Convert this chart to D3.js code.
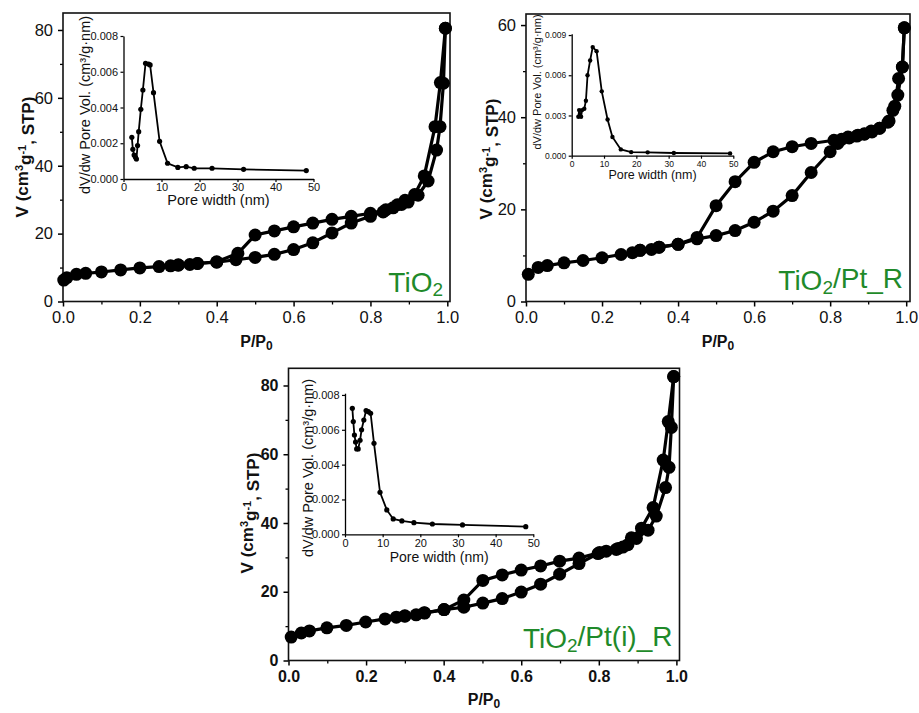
<!DOCTYPE html>
<html><head><meta charset="utf-8">
<script src="https://cdn.jsdelivr.net/npm/d3@7"></script>
<style>body{margin:0;background:#fff} svg{display:block;font-family:"Liberation Sans",Arial,sans-serif}</style>
</head><body><svg id="c" width="919" height="713"></svg>
<script>
// ---------- DATA ----------
// TiO2 isotherm
const tio2AdsP = [0.002,0.01,0.035,0.059,0.1,0.15,0.2,0.25,0.28,0.3,0.33,0.35,0.4,0.45,0.5,0.55,0.6,0.65,0.7,0.75,0.8,0.833,0.859,0.881,0.898,0.924,0.95,0.972,0.981,0.99,0.995];
const tio2AdsV = [6.3,7.0,8.0,8.3,8.7,9.3,9.9,10.3,10.5,10.7,10.9,11.2,11.6,12.3,13.0,13.9,15.3,17.3,20.2,23.1,25.1,26.4,27.6,28.6,29.3,31.3,35.5,44.6,51.5,64.3,80.5];
const tio2DesP = [0.995,0.982,0.968,0.94,0.915,0.89,0.87,0.84,0.8,0.75,0.7,0.65,0.6,0.55,0.5,0.455,0.4,0.35,0.3];
const tio2DesV = [80.5,64.5,51.5,37.0,31.5,29.8,28.5,27.0,26.0,25.1,24.2,23.1,22.0,20.8,19.6,14.2,11.7,11.2,10.8];
// TiO2/Pt_R isotherm
const ptAdsP = [0.006,0.032,0.056,0.1,0.15,0.2,0.25,0.28,0.3,0.33,0.35,0.4,0.45,0.5,0.55,0.6,0.65,0.7,0.75,0.8,0.82,0.847,0.873,0.89,0.908,0.93,0.952,0.965,0.978,0.99,0.995];
const ptAdsV = [5.9,7.4,7.8,8.4,8.9,9.5,10.2,10.6,11.1,11.3,11.8,12.4,13.6,14.3,15.4,17.2,19.6,23.0,28.0,32.5,34.3,35.7,36.1,36.4,37.0,37.6,38.9,41.5,44.8,50.9,59.4];
const ptDesP = [0.995,0.99,0.98,0.97,0.955,0.93,0.91,0.89,0.87,0.85,0.83,0.81,0.75,0.7,0.65,0.6,0.55,0.5,0.45,0.4,0.35,0.3];
const ptDesV = [59.4,50.9,48.4,42.4,39.2,37.6,36.8,36.3,35.9,35.5,35.2,35.0,34.3,33.6,32.5,30.2,26.0,20.8,13.9,12.4,11.8,11.1];
// TiO2/Pt(i)_R isotherm
const ptiAdsP = [0.007,0.033,0.054,0.099,0.149,0.199,0.249,0.278,0.3,0.329,0.351,0.401,0.452,0.501,0.551,0.6,0.65,0.699,0.749,0.798,0.819,0.85,0.875,0.897,0.927,0.948,0.972,0.981,0.987,0.993];
const ptiAdsV = [6.8,8.0,8.6,9.5,10.2,11.2,12.1,12.6,12.9,13.3,13.8,14.8,15.5,16.7,18.0,19.9,22.2,25.1,28.2,31.1,31.8,32.6,33.7,35.5,37.9,42.0,50.3,56.2,67.8,82.6];
const ptiDesP = [0.993,0.979,0.966,0.94,0.91,0.884,0.862,0.845,0.802,0.749,0.699,0.65,0.6,0.551,0.501,0.452,0.401,0.35,0.3];
const ptiDesV = [82.6,69.5,58.3,44.5,38.5,35.7,33.0,32.3,31.4,29.8,28.9,27.5,26.3,24.9,23.3,17.6,14.8,13.9,13.0];
// Pore size distributions (insets)
const tio2PoreW = [2.19,2.46,2.8,3.16,3.4,3.7,4.0,4.56,5.1,5.8,6.6,7.0,7.9,9.5,11.6,14.3,16.5,18.6,23.3,31.6,48.1];
const tio2PoreV = [0.00233,0.00166,0.00134,0.00121,0.00112,0.00187,0.00265,0.0039,0.00498,0.00647,0.00643,0.00638,0.00483,0.00211,0.00088,0.00065,0.00069,0.0006,0.0006,0.00054,0.00047];
const ptPoreW = [2.06,2.3,2.9,3.2,3.9,4.4,4.9,5.7,6.5,7.7,9.3,11.1,12.6,15.2,18.4,23.5,31.6,49];
const ptPoreV = [0.0029,0.0034,0.0029,0.0034,0.0035,0.0041,0.0060,0.0071,0.0081,0.0078,0.0048,0.0027,0.0014,0.00047,0.00027,0.00025,0.0002,0.00017];
const ptiPoreW = [1.95,2.2,2.5,2.8,3.1,3.5,4.0,4.4,5.0,5.6,6.2,6.8,7.7,9.3,11.1,12.8,15.1,18.3,23.2,31.2,48];
const ptiPoreV = [0.00723,0.00647,0.0057,0.0053,0.0049,0.0049,0.0054,0.0060,0.00656,0.0071,0.00704,0.00695,0.00522,0.00241,0.0014,0.00088,0.00077,0.00067,0.00059,0.00054,0.00044];
// Tick values
const xTicks = [0,0.2,0.4,0.6,0.8,1.0];
const xMinor = [0.1,0.3,0.5,0.7,0.9];
const yTicks80 = [0,20,40,60,80];
const yMinor80 = [10,30,50,70];
const yTicks60 = [0,20,40,60];
const yMinor60 = [10,30,50];
const poreTicks = [0,10,20,30,40,50];
const psdTicks8 = [0,0.002,0.004,0.006,0.008];
const psdTicks9 = [0,0.003,0.006,0.009];
const sampleNames = ["TiO2","TiO2/Pt_R","TiO2/Pt(i)_R"];

// ---------- DRAW ----------
const svg = d3.select("#c");
svg.append("rect").attr("width",919).attr("height",713).attr("fill","#fff");
const zip = (a,b)=>a.map((v,i)=>[v,b[i]]);
const green = "#1f8a2a";

function mainPanel(o){
  const g = svg.append("g");
  const x = d3.scaleLinear().domain(o.xd).range([o.L,o.R]);
  const y = d3.scaleLinear().domain(o.yd).range([o.B,o.T]);
  const fw = o.bold ? "bold" : "normal";
  // minor ticks
  g.append("g").attr("transform",`translate(0,${o.B})`)
    .call(d3.axisBottom(x).tickValues(xMinor).tickSize(3).tickSizeOuter(0).tickFormat(""))
    .call(s=>s.select(".domain").remove()).selectAll("line").attr("stroke-width",1.3);
  g.append("g").attr("transform",`translate(${o.L},0)`)
    .call(d3.axisLeft(y).tickValues(o.yMinor).tickSize(3).tickSizeOuter(0).tickFormat(""))
    .call(s=>s.select(".domain").remove()).selectAll("line").attr("stroke-width",1.3);
  const xa = g.append("g").attr("transform",`translate(0,${o.B})`)
    .call(d3.axisBottom(x).tickValues(xTicks).tickSize(5).tickPadding(5).tickSizeOuter(0).tickFormat(d3.format(".1f")));
  const ya = g.append("g").attr("transform",`translate(${o.L},0)`)
    .call(d3.axisLeft(y).tickValues(o.yTicks).tickSize(5).tickPadding(5).tickSizeOuter(0));
  [xa,ya].forEach(a=>{
    a.select(".domain").remove();
    a.attr("font-family",null).attr("font-size",o.fs).attr("font-weight",fw);
    a.selectAll("line").attr("stroke-width",1.5);
    a.selectAll("text").attr("fill","#111");
  });
  g.append("rect").attr("x",o.L).attr("y",o.T).attr("width",o.R-o.L).attr("height",o.B-o.T)
    .attr("fill","none").attr("stroke","#111").attr("stroke-width",1.6);
  // y label
  const yl = g.append("text").attr("transform",`translate(${o.ylx},${o.yly}) rotate(-90)`)
    .attr("text-anchor","middle").attr("font-weight","bold").attr("font-size",17).attr("fill","#111");
  yl.append("tspan").text("V (cm");
  yl.append("tspan").text("3").attr("font-size",11).attr("dy","-0.5em");
  yl.append("tspan").text("g").attr("dy","0.5em");
  yl.append("tspan").text("-1").attr("font-size",11).attr("dy","-0.5em");
  yl.append("tspan").text(", STP)").attr("dy","0.5em");
  // x label
  const xl = g.append("text").attr("x",(o.L+o.R)/2).attr("y",o.xly).attr("text-anchor","middle")
    .attr("font-weight","bold").attr("font-size",16).attr("fill","#111");
  xl.append("tspan").text("P/P");
  xl.append("tspan").text("0").attr("font-size",12).attr("dy","0.25em");
  // series
  const line = d3.line().x(d=>x(d[0])).y(d=>y(d[1]));
  [o.ads,o.des].forEach(s=>{
    g.append("path").datum(s).attr("d",line).attr("fill","none").attr("stroke","#000").attr("stroke-width",3.2);
  });
  [o.ads,o.des].forEach(s=>{
    g.selectAll(null).data(s).enter().append("circle")
      .attr("cx",d=>x(d[0])).attr("cy",d=>y(d[1])).attr("r",6.5).attr("fill","#000");
  });
  // sample label
  const nm = g.append("text").attr("x",o.R-7).attr("y",o.nmy).attr("text-anchor","end")
    .attr("font-size",28).attr("fill",green);
  const parts = o.name.split("2");
  nm.append("tspan").text(parts[0]);
  nm.append("tspan").text("2").attr("font-size",19).attr("dy","0.22em");
  nm.append("tspan").text(parts.slice(1).join("2")).attr("dy","-0.22em");
}

function inset(o){
  const g = svg.append("g");
  const x = d3.scaleLinear().domain([0,50]).range([o.L,o.R]);
  const y = d3.scaleLinear().domain(o.yd).range([o.B,o.T]);
  const xa = g.append("g").attr("transform",`translate(0,${o.B})`)
    .call(d3.axisBottom(x).tickValues(poreTicks).tickSize(3).tickPadding(o.xpad).tickSizeOuter(0));
  const ya = g.append("g").attr("transform",`translate(${o.L},0)`)
    .call(d3.axisLeft(y).tickValues(o.yTicks).tickSize(3).tickPadding(2.5).tickSizeOuter(0).tickFormat(d3.format(".3f")));
  [xa,ya].forEach(a=>{
    a.attr("font-family",null).attr("font-size",o.tfs);
    a.select(".domain").attr("stroke-width",1.3);
    a.selectAll("line").attr("stroke-width",1.2);
    a.selectAll("text").attr("fill","#111");
  });
  g.append("text").attr("x",(o.L+o.R)/2).attr("y",o.xly).attr("text-anchor","middle")
    .attr("font-size",o.xlfs).attr("fill","#111").text("Pore width (nm)");
  g.append("text").attr("transform",`translate(${o.ylx},${o.yly}) rotate(-90)`).attr("text-anchor","middle")
    .attr("font-size",o.ylfs).attr("fill","#111").text("dV/dw Pore Vol. (cm³/g·nm)");
  g.append("path").datum(o.data).attr("d",d3.line().x(d=>x(d[0])).y(d=>y(d[1])))
    .attr("fill","none").attr("stroke","#000").attr("stroke-width",1.8);
  g.selectAll(null).data(o.data).enter().append("circle")
    .attr("cx",d=>x(d[0])).attr("cy",d=>y(d[1])).attr("r",o.r).attr("fill","#000");
}

mainPanel({L:63,R:450,T:13,B:301.5,xd:[0,1.007],yd:[0,85],yTicks:yTicks80,yMinor:yMinor80,fs:16.5,bold:false,
  ylx:28,yly:157,xly:347,nmy:292,name:sampleNames[0],ads:zip(tio2AdsP,tio2AdsV),des:zip(tio2DesP,tio2DesV)});
mainPanel({L:526,R:910,T:14,B:301.5,xd:[0,1.01],yd:[0,62.4],yTicks:yTicks60,yMinor:yMinor60,fs:16.5,bold:false,
  ylx:492,yly:159,xly:347,nmy:290,name:sampleNames[1],ads:zip(ptAdsP,ptAdsV),des:zip(ptDesP,ptDesV)});
mainPanel({L:288.5,R:679.5,T:368.3,B:660.5,xd:[0,1.008],yd:[0,85],yTicks:yTicks80,yMinor:yMinor80,fs:16,bold:true,
  ylx:253,yly:513,xly:705,nmy:648,name:sampleNames[2],ads:zip(ptiAdsP,ptiAdsV),des:zip(ptiDesP,ptiDesV)});

inset({L:123.5,R:313.5,T:36,B:179,yd:[0,0.008],yTicks:psdTicks8,tfs:11,xpad:1.5,xlfs:14.5,ylfs:14.5,
  xly:205,ylx:90,yly:105,r:2.6,data:zip(tio2PoreW,tio2PoreV)});
inset({L:571.7,R:733.3,T:33.7,B:155.7,yd:[0,0.0091],yTicks:psdTicks9,tfs:8.5,xpad:2.3,xlfs:12.5,ylfs:11,
  xly:179,ylx:541,yly:82,r:2.2,data:zip(ptPoreW,ptPoreV)});
inset({L:345,R:533.3,T:393.2,B:534.3,yd:[0,0.0081],yTicks:psdTicks8,tfs:11,xpad:1.5,xlfs:14,ylfs:14.5,
  xly:562,ylx:313,yly:468,r:2.6,data:zip(ptiPoreW,ptiPoreV)});
</script></body></html>
